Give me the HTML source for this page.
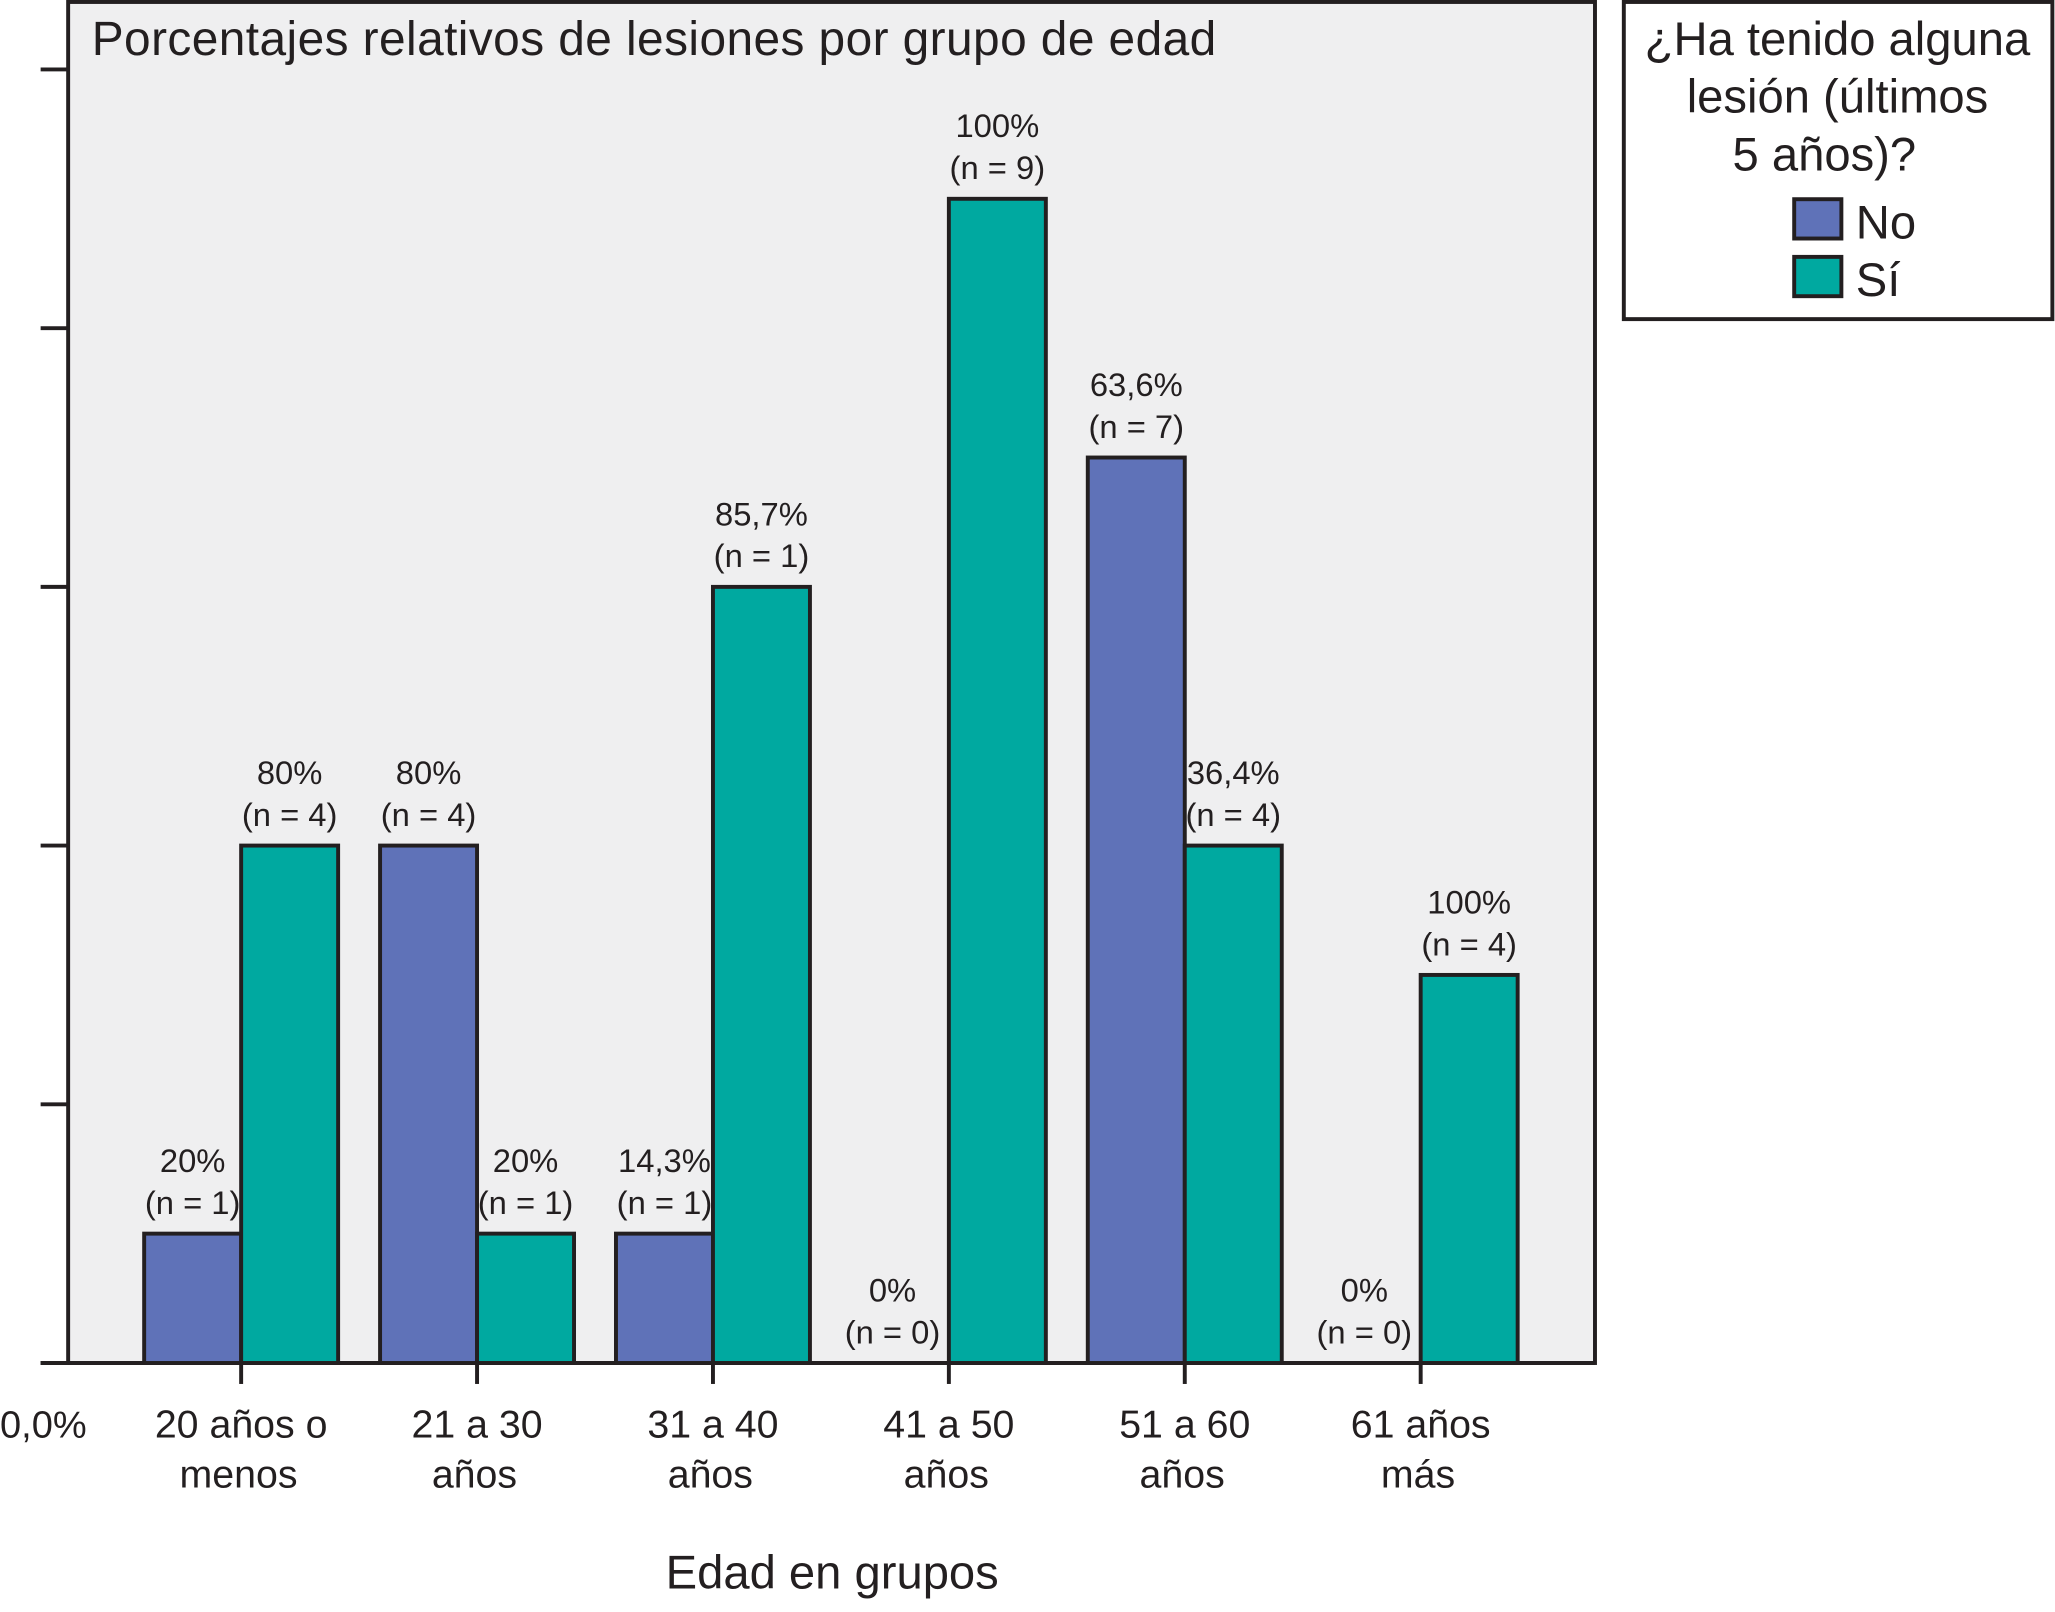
<!DOCTYPE html>
<html><head><meta charset="utf-8"><style>html,body{margin:0;padding:0;background:#fff}svg{display:block}text{font-family:"Liberation Sans",Arial,sans-serif;fill:#231f20}</style></head>
<body>
<svg id="chart" width="2055" height="1612" viewBox="0 0 1568 1230" preserveAspectRatio="none" xmlns="http://www.w3.org/2000/svg">
<rect x="52" y="1.5" width="1165" height="1038.5" fill="#efeff0" stroke="#231f20" stroke-width="3"/>
<text x="70" y="42" font-size="36.5" textLength="858">Porcentajes relativos de lesiones por grupo de edad</text>
<g id="axes"></g>
<g id="bars"></g>
<g id="labels"></g>
<text x="0" y="1097" font-size="29">0,0%</text>
<text x="635" y="1212" font-size="36" text-anchor="middle">Edad en grupos</text>
<g>
<rect x="1239" y="1.5" width="327" height="242" fill="#fff" stroke="#231f20" stroke-width="3"/>
<text x="1402" y="42" font-size="36" text-anchor="middle">¿Ha tenido alguna</text>
<text x="1402" y="86" font-size="36" text-anchor="middle">lesión (últimos</text>
<text x="1392" y="130" font-size="36" text-anchor="middle">5 años)?</text>
<rect x="1369" y="152" width="36" height="30" fill="#5f72b8" stroke="#231f20" stroke-width="3"/>
<text x="1416" y="182" font-size="36">No</text>
<rect x="1369" y="196" width="36" height="30" fill="#00a9a0" stroke="#231f20" stroke-width="3"/>
<text x="1416" y="226" font-size="36">Sí</text>
</g>
</svg>
<script>
const categories1 = ["20 años o","21 a 30","31 a 40","41 a 50","51 a 60","61 años"];
const categories2 = ["menos","años","años","años","años","más"];
const noValues = [1,4,1,0,7,0];
const siValues = [4,1,6,9,4,3];
const noPct = ["20%","80%","14,3%","0%","63,6%","0%"];
const noN = ["(n = 1)","(n = 4)","(n = 1)","(n = 0)","(n = 7)","(n = 0)"];
const siPct = ["80%","20%","85,7%","100%","36,4%","100%"];
const siN = ["(n = 4)","(n = 1)","(n = 1)","(n = 9)","(n = 4)","(n = 4)"];
const yTicks = [0,2,4,6,8,10];

const NS="http://www.w3.org/2000/svg";
const y0=1040, unit=98.7, bw=74;
const y=v=>y0-v*unit;
const cx=i=>184+i*180;
function mk(tag,attrs,parent){const e=document.createElementNS(NS,tag);for(const k in attrs)e.setAttribute(k,attrs[k]);parent.appendChild(e);return e;}
const axes=document.getElementById('axes'),bars=document.getElementById('bars'),labels=document.getElementById('labels');
let bl=mk('line',{x1:31,x2:1217,y1:y0,y2:y0,stroke:'#231f20','stroke-width':3},axes);


yTicks.forEach(t=>{
  const l=mk('line',{x1:31,x2:52,y1:y(t),y2:y(t),stroke:'#231f20','stroke-width':3},axes);
  
  
});
categories1.forEach((c,i)=>{
  const x=cx(i);
  const tk=mk('line',{x1:x,x2:x,y1:y0,y2:y0+16,stroke:'#231f20','stroke-width':3},axes);
  
  
  const t1=mk('text',{x:x,y:1097,'font-size':30,'text-anchor':'middle'},axes);t1.textContent=c;
  
  
  const t2=mk('text',{x:x-2,y:1135,'font-size':30,'text-anchor':'middle'},axes);t2.textContent=categories2[i];
  
  
  [[noValues,noPct,noN,x-bw,'#5f72b8','bar-no'],[siValues,siPct,siN,x,'#00a9a0','bar-si']].forEach(([vals,p,n,bx,col,nm])=>{
    const v=vals[i];
    if(v>0){
      const r=mk('rect',{x:bx,y:y(v),width:bw,height:y0-y(v),fill:col,stroke:'#231f20','stroke-width':3},bars);
      
      
    }
    const top=y(v);
    const lx=v>0?bx+bw/2:bx+bw/2-6;
    const a=mk('text',{x:lx,y:top-47,'font-size':25,'text-anchor':'middle'},labels);a.textContent=p[i];
    
    
    const b=mk('text',{x:lx,y:top-15,'font-size':25,'text-anchor':'middle'},labels);b.textContent=n[i];
    
    
  });
});
</script>
</body></html>
